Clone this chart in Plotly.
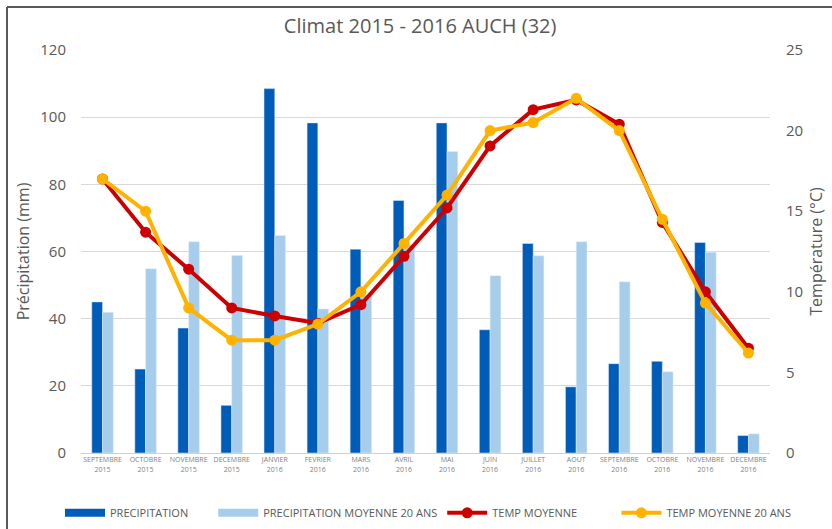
import plotly.graph_objects as go

months = ["SEPTEMBRE<br>2015", "OCTOBRE<br>2015", "NOVEMBRE<br>2015", "DECEMBRE<br>2015",
          "JANVIER<br>2016", "FEVRIER<br>2016", "MARS<br>2016", "AVRIL<br>2016",
          "MAI<br>2016", "JUIN<br>2016", "JUILLET<br>2016", "AOUT<br>2016",
          "SEPTEMBRE<br>2016", "OCTOBRE<br>2016", "NOVEMBRE<br>2016", "DECEMBRE<br>2016"]
precip = [45.0, 25.0, 37.2, 14.2, 108.5, 98.3, 60.7, 75.2, 98.3, 36.7, 62.4, 19.7, 26.6, 27.3, 62.7, 5.2]
precip_20 = [41.9, 54.9, 62.9, 58.8, 64.8, 42.9, 47.0, 62.0, 89.8, 52.8, 58.7, 62.9, 51.0, 24.2, 59.8, 5.7]
temp = [17.0, 13.7, 11.4, 9.0, 8.5, 8.05, 9.2, 12.2, 15.2, 19.05, 21.3, 21.9, 20.4, 14.3, 10.0, 6.5]
temp_20 = [17.0, 15.0, 9.0, 7.0, 7.0, 8.0, 10.0, 13.0, 16.0, 20.0, 20.5, 22.0, 20.0, 14.5, 9.3, 6.2]
series_names = ["PRECIPITATION", "PRECIPITATION MOYENNE 20 ANS", "TEMP MOYENNE", "TEMP MOYENNE 20 ANS"]

L, R, T, B, W, H = 81, 62, 50, 76, 832, 529
pw, ph = W - L - R, H - T - B
C_P, C_P20, C_T, C_T20 = "#005CB9", "#A6CEEC", "#CC0000", "#FFB300"
NB = "\u00a0"
# invisible padding to space legend entries like the original
pads = [NB * 7, "", NB * 12, ""]

fig = go.Figure()
fig.add_trace(go.Bar(x=months, y=precip, name=series_names[0], marker_color=C_P, showlegend=False))
fig.add_trace(go.Bar(x=months, y=precip_20, name=series_names[1], marker_color=C_P20, showlegend=False))
# legend entries for the bars drawn as wide rectangles (as in the original legend)
fig.add_trace(go.Scatter(x=[None], y=[None], mode="lines", name=series_names[0] + pads[0],
                         line=dict(color=C_P, width=8)))
fig.add_trace(go.Scatter(x=[None], y=[None], mode="lines", name=series_names[1] + pads[1],
                         line=dict(color=C_P20, width=8)))
fig.add_trace(go.Scatter(x=months, y=temp, name=series_names[2] + pads[2], yaxis="y2", mode="lines+markers",
                         line=dict(color=C_T, width=4), marker=dict(size=11, color=C_T)))
fig.add_trace(go.Scatter(x=months, y=temp_20, name=series_names[3] + pads[3], yaxis="y2", mode="lines+markers",
                         line=dict(color=C_T20, width=4), marker=dict(size=11, color=C_T20)))

# outer frame (top and left edges of the original screenshot border)
fx = (7 - L) / pw
fy = (H - B - 7) / ph
fig.add_shape(type="line", xref="paper", yref="paper", x0=fx, x1=(W - L) / pw, y0=fy, y1=fy,
              line=dict(color="#5a5a5a", width=2))
fig.add_shape(type="line", xref="paper", yref="paper", x0=fx, x1=fx, y0=fy, y1=-(B) / ph - 0.01,
              line=dict(color="#5a5a5a", width=2))

fig.update_layout(
    width=W, height=H,
    margin=dict(l=L, r=R, t=T, b=B, autoexpand=False),
    paper_bgcolor="white", plot_bgcolor="white",
    font=dict(family="Open Sans, Liberation Sans, sans-serif", color="#595959"),
    title=dict(text="Climat 2015 - 2016 AUCH (32)", x=0.505, xanchor="center", y=0.95, yanchor="middle",
               font=dict(size=20, color="#595959")),
    barmode="group", bargap=0.5, bargroupgap=0,
    xaxis=dict(tickfont=dict(size=7, color="#7f7f7f"), showline=True, linecolor="#d0d0d0", linewidth=1,
               ticks="", showgrid=False, automargin=False, range=[-0.5, 15.5]),
    yaxis=dict(range=[0, 120], dtick=20, gridcolor="#d9d9d9", gridwidth=1, zeroline=False,
               tickfont=dict(size=15, color="#595959"), ticklabelstandoff=14, automargin=False,
               title=dict(text="Précipitation (mm)", font=dict(size=16, color="#595959"), standoff=6)),
    yaxis2=dict(range=[0, 25], dtick=5, overlaying="y", side="right", showgrid=False, zeroline=False,
                tickfont=dict(size=15, color="#595959"), ticklabelstandoff=15, automargin=False,
                title=dict(text="Température (°C)", font=dict(size=16, color="#595959"), standoff=8)),
    legend=dict(orientation="h", x=(60 - L) / pw, xanchor="left", y=-0.1125, yanchor="top",
                font=dict(size=11, color="#595959"), itemwidth=40, traceorder="normal"),
)

fig.write_html("out.html", config={"displayModeBar": False},
               post_script="document.body.style.margin='0';")
